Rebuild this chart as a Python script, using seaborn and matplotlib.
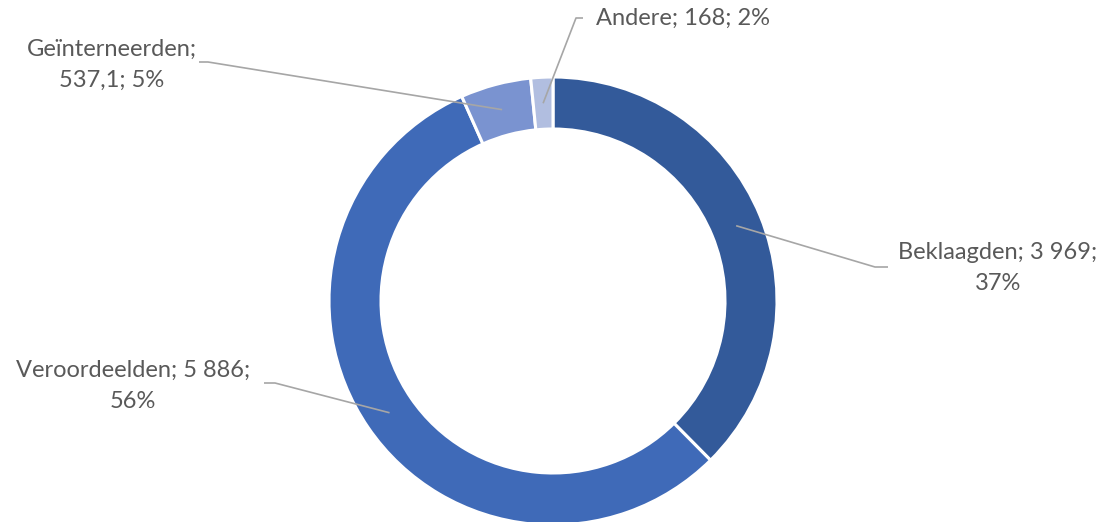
import numpy as np
import matplotlib
matplotlib.use("Agg")
import matplotlib.pyplot as plt
import seaborn as sns

categories = ["Beklaagden", "Veroordeelden", "Geïnterneerden", "Andere"]
values = [3969, 5886, 537.1, 168]
value_labels = ["3 969", "5 886", "537,1", "168"]
pct_labels = ["37%", "56%", "5%", "2%"]
colors = ["#335A9A", "#3F6AB8", "#7A93D0", "#B1BEE0"]

sns.set_theme(style="white")
plt.rcParams["font.family"] = ["Lato", "DejaVu Sans"]

W, H = 1110, 522
fig = plt.figure(figsize=(W / 100, H / 100), dpi=100)
ax = fig.add_axes([0, 0, 1, 1])

cx, cy = 553, H - 301
R, ring = 224, 52
wedges, _ = ax.pie(values, colors=colors, startangle=90, counterclock=False,
                   center=(cx, cy), radius=R,
                   wedgeprops=dict(width=ring, edgecolor="white", linewidth=2.2))
ax.set_xlim(0, W)
ax.set_ylim(0, H)
ax.set_aspect("equal")
ax.axis("off")

label_texts = [
    f"{categories[0]}; {value_labels[0]};\n{pct_labels[0]}",
    f"{categories[1]}; {value_labels[1]};\n{pct_labels[1]}",
    f"{categories[2]};\n{value_labels[2]}; {pct_labels[2]}",
    f"{categories[3]}; {value_labels[3]}; {pct_labels[3]}",
]
# (elbow x, elbow y, horizontal end x, text x, text y, ha)
layout = [
    (875, 267, 888, 998, 268, "center"),
    (275, 383, 264, 133, 386, "center"),
    (208, 62, 199, 112, 65, "center"),
    (576, 18, 583, 596, 18, "left"),
]
line_col = "#A6A6A6"
rmid = R - ring / 2
for w, txt, (ex, ey, hx, tx, ty, ha) in zip(wedges, label_texts, layout):
    ang = np.deg2rad((w.theta1 + w.theta2) / 2)
    ax_ = cx + rmid * np.cos(ang)
    ay_ = cy + rmid * np.sin(ang)
    ax.plot([ax_, ex, hx], [ay_, H - ey, H - ey], color=line_col, lw=1.2,
            solid_capstyle="butt", zorder=3)
    ax.text(tx, H - ty, txt, ha=ha, va="center", multialignment="center",
            fontsize=17, color="#595959", linespacing=1.55)

fig.savefig("out.png", dpi=100)
